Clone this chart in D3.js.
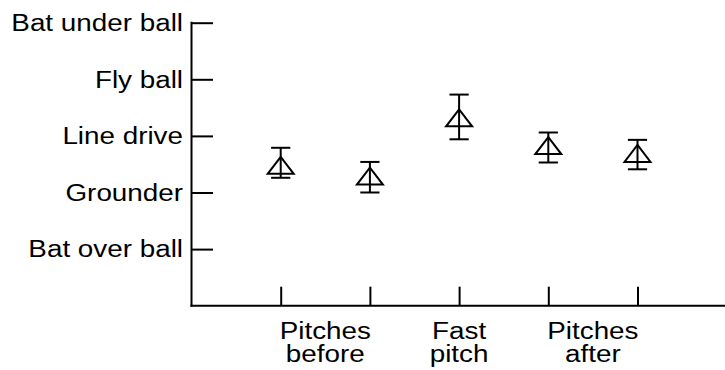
<!DOCTYPE html>
<html><head><meta charset="utf-8">
<script src="https://cdn.jsdelivr.net/npm/d3@7"></script>
<style>html,body{margin:0;padding:0;background:#fff;} svg{display:block;}</style>
</head><body>
<svg id="chart" width="725" height="370"></svg>
<script>
// Data
const conditions = [1, 2, 3, 4, 5];
const means = [2.48, 2.29, 3.32, 2.83, 2.69];
const errLow = [2.26, 2.00, 2.94, 2.53, 2.41];
const errHigh = [2.79, 2.54, 3.73, 3.06, 2.93];
const yTickValues = [1, 2, 3, 4, 5];
const yTickLabels = ["Bat over ball", "Grounder", "Line drive", "Fly ball", "Bat under ball"];
const xGroupPos = [1.5, 3, 4.5];
const xGroupLabels = [["Pitches", "before"], ["Fast", "pitch"], ["Pitches", "after"]];

const svg = d3.select("#chart");
const x = d3.scaleLinear().domain([0, 6]).range([191.5, 726.7]);
const y = d3.scaleLinear().domain([0, 5]).range([305.7, 22.7]);
const font = "'Liberation Sans', Arial, Helvetica, sans-serif";
const sx = 1.21;

// Axes lines
svg.append("line").attr("x1", x(0)).attr("x2", x(0)).attr("y1", y(5) - 1).attr("y2", y(0) + 1)
  .attr("stroke", "#000").attr("stroke-width", 2);
svg.append("line").attr("x1", x(0) - 1).attr("x2", 725).attr("y1", y(0)).attr("y2", y(0))
  .attr("stroke", "#000").attr("stroke-width", 2);

// Y ticks (inward)
const yAxis = d3.axisRight(y).tickValues(yTickValues).tickSize(21.5).tickFormat("");
const gy = svg.append("g").attr("transform", `translate(${x(0)},0)`).call(yAxis);
gy.select(".domain").remove();
gy.selectAll(".tick line").attr("stroke", "#000").attr("stroke-width", 2);

// Y labels
svg.append("g").selectAll("text").data(yTickValues).join("text")
  .attr("transform", d => `translate(${x(0) - 8.5},${y(d) + 8.2}) scale(${sx},1)`)
  .attr("text-anchor", "end")
  .style("font-family", font).style("font-size", "23px").attr("fill", "#000")
  .text((d, i) => yTickLabels[i]);

// X ticks (inward)
const xAxis = d3.axisTop(x).tickValues(conditions).tickSize(19).tickFormat("");
const gx = svg.append("g").attr("transform", `translate(0,${y(0)})`).call(xAxis);
gx.select(".domain").remove();
gx.selectAll(".tick line").attr("stroke", "#000").attr("stroke-width", 2);

// X group labels (one text with two lines)
svg.append("g").selectAll("text").data(xGroupPos).join("text")
  .attr("transform", d => `translate(${x(d)},339) scale(${sx},1)`)
  .attr("text-anchor", "middle")
  .style("font-family", font).style("font-size", "23px").attr("fill", "#000")
  .each(function (d, i) {
    const t = d3.select(this);
    xGroupLabels[i].forEach((s, j) => {
      t.append("tspan").attr("x", 0).attr("y", j * 22.7).text(s);
    });
  });

// Points with error bars
const pts = svg.append("g").selectAll("g").data(conditions).join("g");
const capW = 9.6;
pts.append("line")
  .attr("x1", d => x(d)).attr("x2", d => x(d))
  .attr("y1", (d, i) => y(errHigh[i])).attr("y2", (d, i) => y(errLow[i]))
  .attr("stroke", "#000").attr("stroke-width", 2);
pts.append("line")
  .attr("x1", d => x(d) - capW).attr("x2", d => x(d) + capW)
  .attr("y1", (d, i) => y(errHigh[i])).attr("y2", (d, i) => y(errHigh[i]))
  .attr("stroke", "#000").attr("stroke-width", 2);
pts.append("line")
  .attr("x1", d => x(d) - capW).attr("x2", d => x(d) + capW)
  .attr("y1", (d, i) => y(errLow[i])).attr("y2", (d, i) => y(errLow[i]))
  .attr("stroke", "#000").attr("stroke-width", 2);
pts.append("path")
  .attr("d", (d, i) => {
    const cx = x(d), cy = y(means[i]);
    return `M${cx},${cy - 8.5}L${cx + 13},${cy + 8.5}L${cx - 13},${cy + 8.5}Z`;
  })
  .attr("fill", "none").attr("stroke", "#000").attr("stroke-width", 2).attr("stroke-linejoin", "miter");
</script>
</body></html>
